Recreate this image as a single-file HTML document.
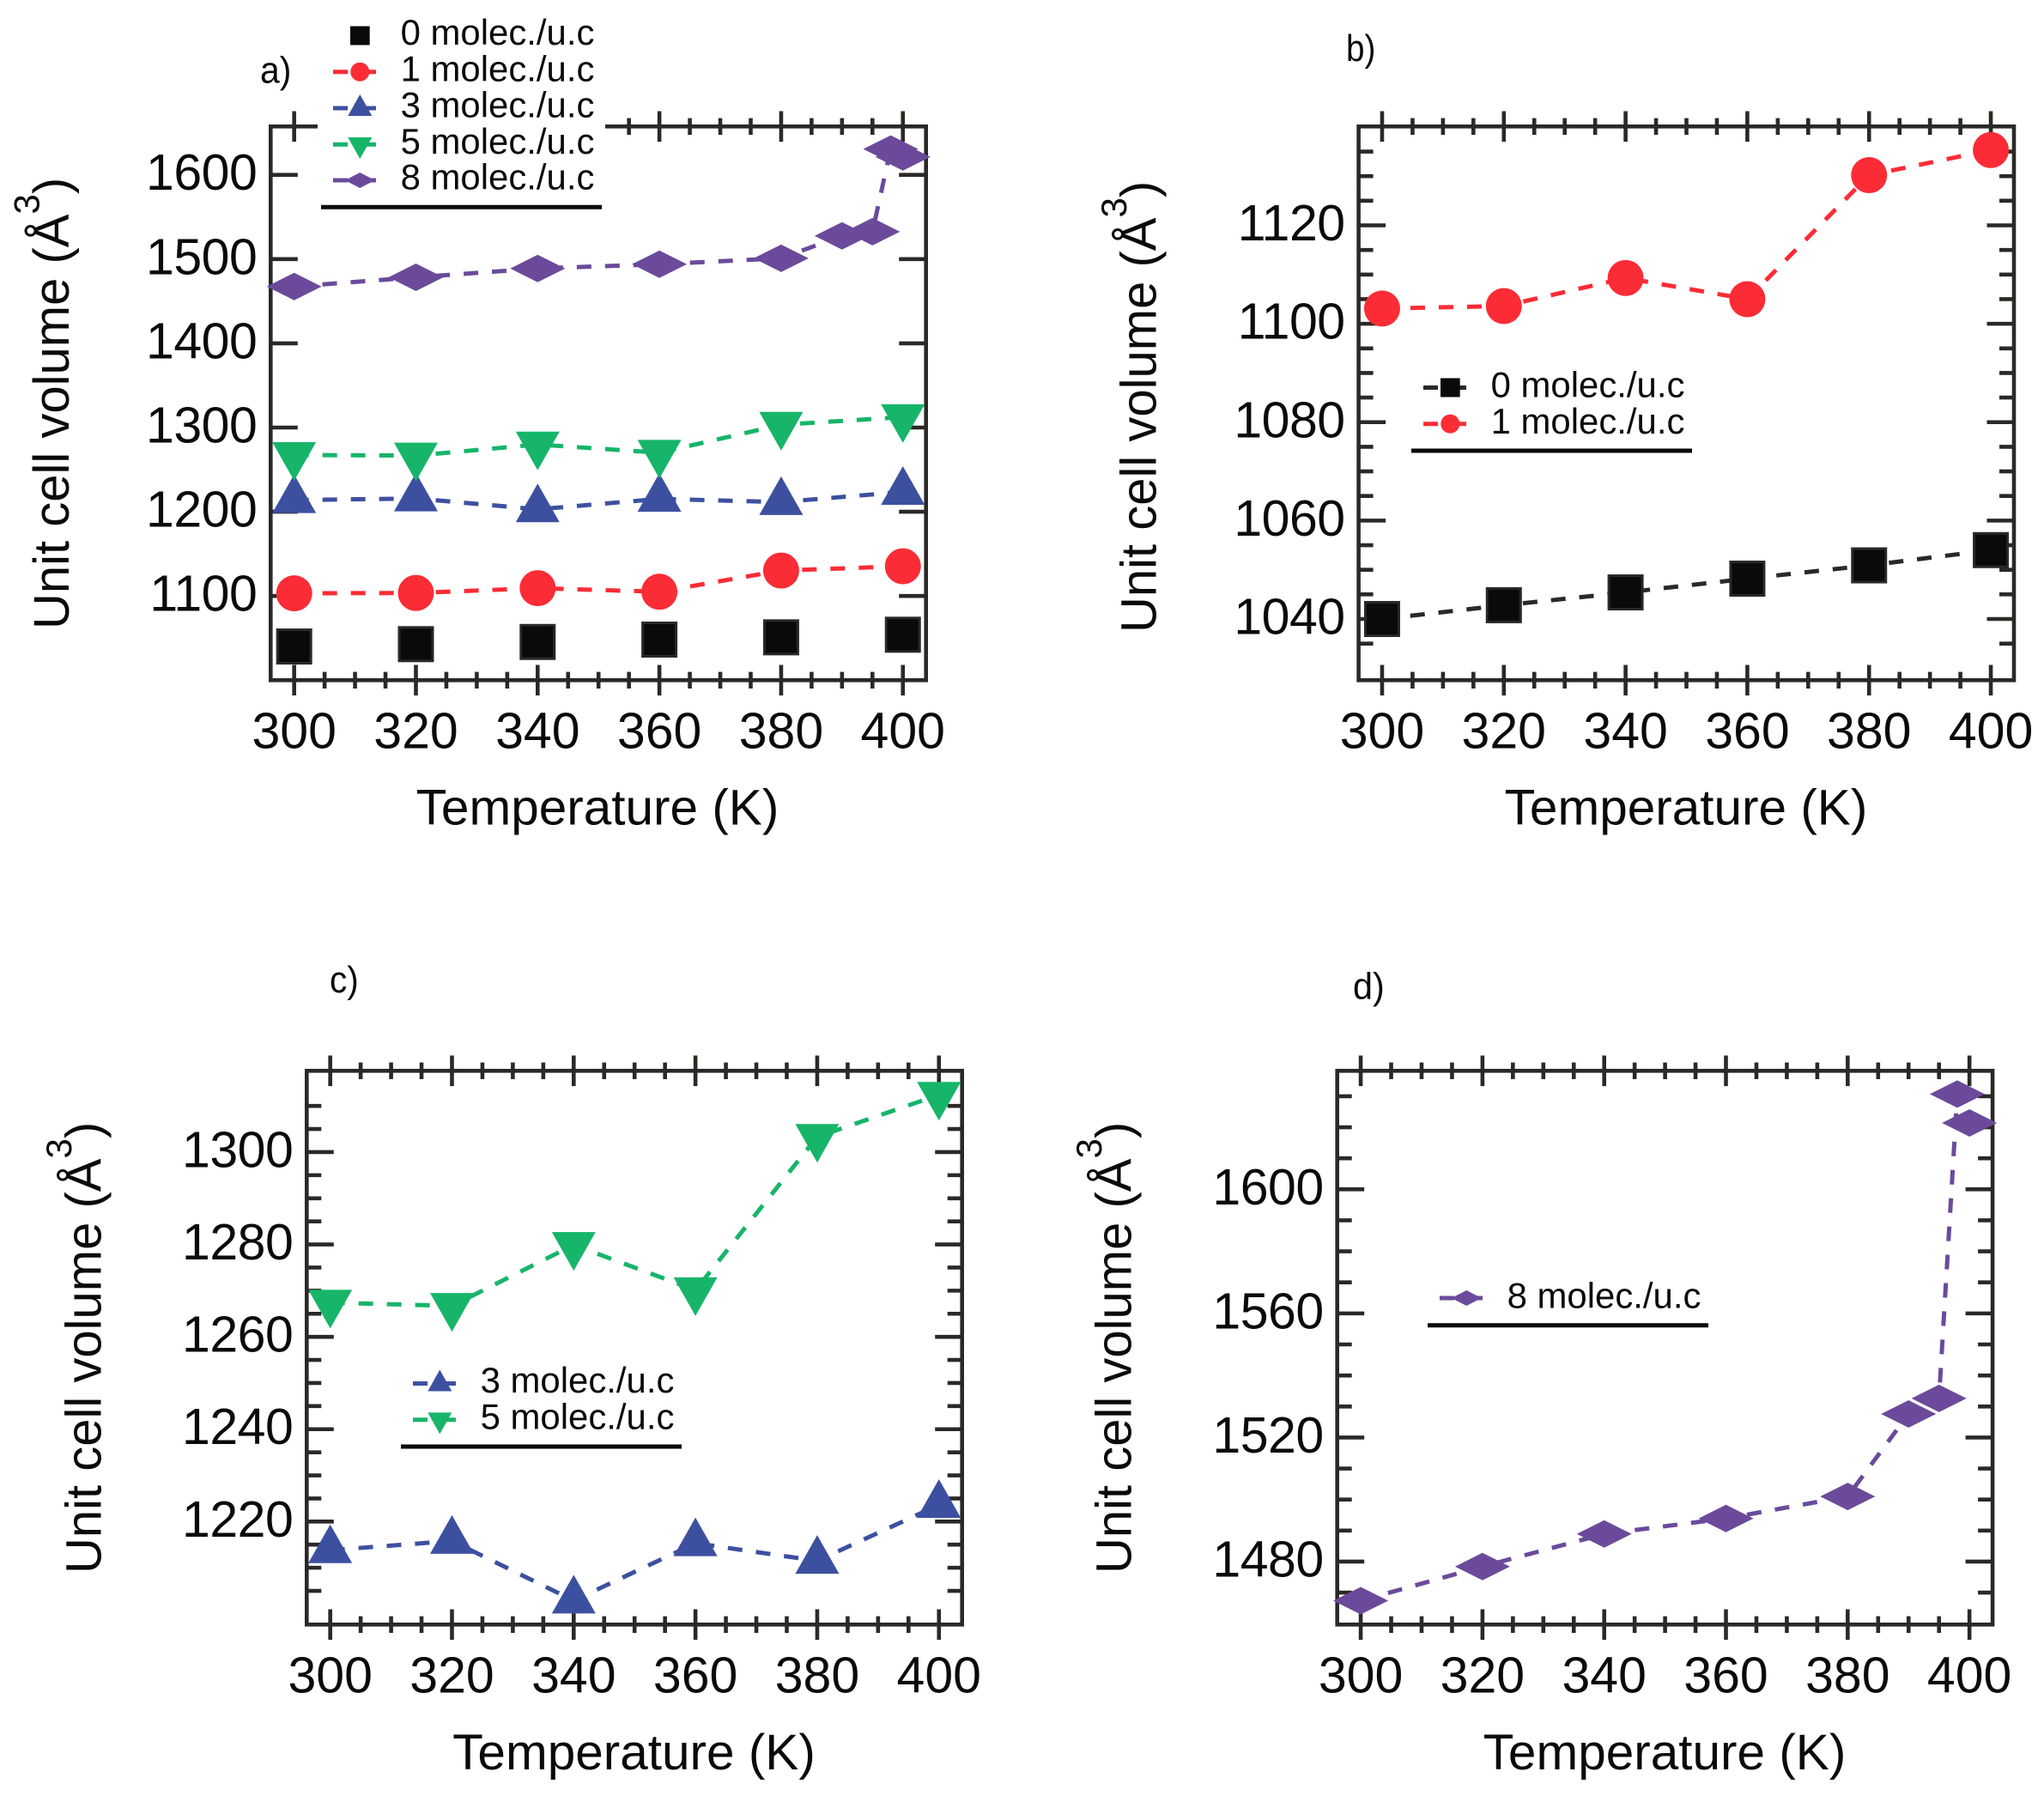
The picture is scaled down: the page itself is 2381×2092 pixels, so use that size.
<!DOCTYPE html>
<html lang="en">
<head>
<meta charset="utf-8">
<title>Unit cell volume vs temperature</title>
<style>
html,body{margin:0;padding:0;background:#fff;}
svg{display:block;}
text{font-family:"Liberation Sans",Arial,sans-serif;fill:#0a0a0a;}
.leg-text{font-size:41.9px;}
.panel-label{font-size:44px;}
.x-title{font-size:58.5px;text-anchor:middle;}
.y-title{font-size:58px;}
.leg-line{fill:none;stroke-width:5;stroke-dasharray:17 16;}
.underline{stroke:#0a0a0a;stroke-width:5;}
</style>
</head>
<body>
<svg id="figure" xmlns="http://www.w3.org/2000/svg" width="2381" height="2092" viewBox="0 0 2381 2092">
<rect width="2381" height="2092" fill="#fff"/>

<!-- Panel a -->
<g id="panel-a">
  <g id="axes-a"></g>
  <rect x="370" y="100" width="335" height="145" fill="#fff"/>
  <g id="series-a"></g>
  <text class="panel-label" transform="translate(303,96.7) scale(.93,1)">a)</text>
  <text class="x-title" x="696" y="960.5">Temperature (K)</text>
  <text class="y-title" transform="translate(80,733) rotate(-90)">Unit cell volume (Å<tspan dy="-34.5" font-size="42">3</tspan><tspan dy="34.5">)</tspan></text>
  <g transform="translate(388,0)">
    <g transform="translate(0,41.5)">
      <rect x="20" y="-11" width="22.7" height="22" fill="#0a0a0a"/>
      <text class="leg-text" x="78.6" y="10.7">0 molec./u.c</text>
    </g>
    <g transform="translate(0,83.7)">
      <path class="leg-line" d="M0 0H50" stroke="#fb2c36"/><circle cx="31.3" cy="0" r="11" fill="#fb2c36"/>
      <text class="leg-text" x="78.6" y="10.7">1 molec./u.c</text>
    </g>
    <g transform="translate(0,126)">
      <path class="leg-line" d="M0 0H50" stroke="#3d50a0"/><polygon points="31.3,-16 45.3,9 17.3,9" fill="#3d50a0"/>
      <text class="leg-text" x="78.6" y="10.7">3 molec./u.c</text>
    </g>
    <g transform="translate(0,168.3)">
      <path class="leg-line" d="M0 0H50" stroke="#17b569"/><polygon points="31.3,16.7 45.3,-8.3 17.3,-8.3" fill="#17b569"/>
      <text class="leg-text" x="78.6" y="10.7">5 molec./u.c</text>
    </g>
    <g transform="translate(0,210)">
      <path class="leg-line" d="M0 0H50" stroke="#6b4a9b"/><polygon points="13.8,0 31.3,-9 48.8,0 31.3,9" fill="#6b4a9b"/>
      <text class="leg-text" x="78.6" y="10.7">8 molec./u.c</text>
    </g>
    <line class="underline" x1="-14" x2="313" y1="241.3" y2="241.3"/>
  </g>
</g>

<!-- Panel b -->
<g id="panel-b">
  <g id="axes-b"></g>
  <g id="series-b"></g>
  <text class="panel-label" transform="translate(1568,70.9) scale(.88,1)">b)</text>
  <text class="x-title" x="1964" y="960.5">Temperature (K)</text>
  <text class="y-title" transform="translate(1346.7,737) rotate(-90)">Unit cell volume (Å<tspan dy="-34.5" font-size="42">3</tspan><tspan dy="34.5">)</tspan></text>
  <g transform="translate(1658,0)">
    <g transform="translate(0,451.5)">
      <path class="leg-line" d="M0 0H50" stroke="#2a2926"/><rect x="20" y="-11" width="22.7" height="22" fill="#0a0a0a"/>
      <text class="leg-text" x="78.6" y="11.2">0 molec./u.c</text>
    </g>
    <g transform="translate(0,493.7)">
      <path class="leg-line" d="M0 0H50" stroke="#fb2c36"/><circle cx="31.3" cy="0" r="11" fill="#fb2c36"/>
      <text class="leg-text" x="78.6" y="11.2">1 molec./u.c</text>
    </g>
    <line class="underline" x1="-14" x2="313" y1="525" y2="525"/>
  </g>
</g>

<!-- Panel c -->
<g id="panel-c">
  <g id="axes-c"></g>
  <g id="series-c"></g>
  <text class="panel-label" transform="translate(384,1155.9) scale(.92,1)">c)</text>
  <text class="x-title" x="738.5" y="2060.8">Temperature (K)</text>
  <text class="y-title" transform="translate(117.3,1833) rotate(-90)">Unit cell volume (Å<tspan dy="-34.5" font-size="42">3</tspan><tspan dy="34.5">)</tspan></text>
  <g transform="translate(481,0)">
    <g transform="translate(0,1611.5)">
      <path class="leg-line" d="M0 0H50" stroke="#3d50a0"/><polygon points="31.3,-16 45.3,9 17.3,9" fill="#3d50a0"/>
      <text class="leg-text" x="78.6" y="10.7">3 molec./u.c</text>
    </g>
    <g transform="translate(0,1653.7)">
      <path class="leg-line" d="M0 0H50" stroke="#17b569"/><polygon points="31.3,16.7 45.3,-8.3 17.3,-8.3" fill="#17b569"/>
      <text class="leg-text" x="78.6" y="10.7">5 molec./u.c</text>
    </g>
    <line class="underline" x1="-14" x2="313" y1="1685" y2="1685"/>
  </g>
</g>

<!-- Panel d -->
<g id="panel-d">
  <g id="axes-d"></g>
  <g id="series-d"></g>
  <text class="panel-label" transform="translate(1576,1163.6) scale(.94,1)">d)</text>
  <text class="x-title" x="1939" y="2060.8">Temperature (K)</text>
  <text class="y-title" transform="translate(1317.7,1833) rotate(-90)">Unit cell volume (Å<tspan dy="-34.5" font-size="42">3</tspan><tspan dy="34.5">)</tspan></text>
  <g transform="translate(1677,0)">
    <g transform="translate(0,1512)">
      <path class="leg-line" d="M0 0H50" stroke="#6b4a9b"/><polygon points="13.8,0 31.3,-9 48.8,0 31.3,9" fill="#6b4a9b"/>
      <text class="leg-text" x="78.6" y="11.5">8 molec./u.c</text>
    </g>
    <line class="underline" x1="-14" x2="313" y1="1543.8" y2="1543.8"/>
  </g>
</g>
</svg>

<script>
// ---- data ----
const temps = [300, 320, 340, 360, 380, 400];
const temps8 = [300, 320, 340, 360, 380, 390, 395, 398, 400];
const vol0 = [1040, 1042.8, 1045.4, 1048.2, 1050.9, 1054];
const vol1 = [1103.1, 1103.6, 1109.3, 1105, 1130.2, 1135.3];
const vol3 = [1213.8, 1215.8, 1202.9, 1215.3, 1211.5, 1223.6];
const vol5 = [1267.4, 1266.7, 1279.9, 1270.1, 1303.3, 1312.4];
const vol8 = [1467.4, 1478.4, 1488.9, 1493.9, 1501, 1527.6, 1532.6, 1630.7, 1621.4];
const xTickLabels = [300, 320, 340, 360, 380, 400];
const yTickLabelsA = [1100, 1200, 1300, 1400, 1500, 1600];
const yTickLabelsB = [1040, 1060, 1080, 1100, 1120];
const yTickLabelsC = [1220, 1240, 1260, 1280, 1300];
const yTickLabelsD = [1480, 1520, 1560, 1600];

// ---- layout ----
const NS = 'http://www.w3.org/2000/svg';
const AXIS = '#2a2926';
const COLORS = {s0: '#0a0a0a', s1: '#fb2c36', s3: '#3d50a0', s5: '#17b569', s8: '#6b4a9b'};
const XMIN = 296.14, XMAX = 403.8, W = 763.4, H = 645;

function make(tag, attrs, parent) {
  const el = document.createElementNS(NS, tag);
  for (const k in attrs) el.setAttribute(k, attrs[k]);
  parent.appendChild(el);
  return el;
}

function drawMarker(kind, cx, cy, color, parent) {
  let el;
  if (kind === 'square') {
    el = make('rect', {x: cx - 19.5, y: cy - 19.5, width: 39, height: 39, fill: '#0a0a0a', stroke: AXIS, 'stroke-width': 3}, parent);
  } else if (kind === 'circle') {
    el = make('circle', {cx: cx, cy: cy, r: 21, fill: color}, parent);
  } else if (kind === 'up') {
    el = make('polygon', {points: [cx, cy - 30, cx + 25.5, cy + 15, cx - 25.5, cy + 15].join(' '), fill: color}, parent);
  } else if (kind === 'down') {
    el = make('polygon', {points: [cx, cy + 30, cx + 25.5, cy - 15, cx - 25.5, cy - 15].join(' '), fill: color}, parent);
  } else {
    el = make('polygon', {points: [cx - 32, cy, cx, cy - 16, cx + 32, cy, cx, cy + 16].join(' '), fill: color}, parent);
  }
  return el;
}

function drawPanel(cfg) {
  const axes = document.getElementById('axes-' + cfg.id);
  const seriesLayer = document.getElementById('series-' + cfg.id);
  const left = cfg.left, top = cfg.top, right = left + W, bottom = top + H;
  const xScale = v => left + (v - XMIN) / (XMAX - XMIN) * W;
  const yScale = v => bottom - (v - cfg.ymin) / (cfg.ymax - cfg.ymin) * H;

  const tick = (x1, y1, x2, y2, name) => {
    const t = make('line', {x1: x1, y1: y1, x2: x2, y2: y2, stroke: AXIS, 'stroke-width': 4.6}, axes);
    
    
  };

  // x ticks: minor every 5 K, major at labels
  for (let v = 300; v <= 400; v += 5) {
    const x = xScale(v);
    const major = xTickLabels.indexOf(v) >= 0;
    const half = major ? 17.8 : 9.7;
    tick(x, bottom - half, x, bottom + half, 'x-tick-bottom');
    tick(x, top - half, x, top + half, 'x-tick-top');
  }
  // y minor ticks
  if (cfg.minorStep) {
    for (let v = cfg.minorFrom; v <= cfg.minorTo; v += cfg.minorStep) {
      if (cfg.yTicks.indexOf(v) >= 0) continue;
      const y = yScale(v);
      tick(left, y, left + 17, y, 'y-minor-tick-left');
      tick(right, y, right - 17, y, 'y-minor-tick-right');
    }
  }
  // y major ticks and labels
  cfg.yTicks.forEach(v => {
    const y = yScale(v);
    tick(left, y, left + 31.5, y, 'y-tick-left');
    tick(right, y, right - 31.5, y, 'y-tick-right');
    const lab = make('text', {x: left - 16, y: y + 17.5, 'text-anchor': 'end', 'font-size': 59, 'letter-spacing': '-0.5'}, axes);
    lab.textContent = String(v);
    
    
  });
  xTickLabels.forEach(v => {
    const lab = make('text', {x: xScale(v), y: bottom + 79, 'text-anchor': 'middle', 'font-size': 59}, axes);
    lab.textContent = String(v);
    
    
  });
  // frame
  const frame = make('rect', {x: left, y: top, width: W, height: H, fill: 'none', stroke: AXIS, 'stroke-width': 4.6}, axes);
  
  

  // series
  cfg.series.forEach(s => {
    const g = make('g', {}, seriesLayer);
    
    
    if (s.dashed) {
      const pts = s.x.map((xv, i) => xScale(xv).toFixed(2) + ',' + yScale(s.y[i]).toFixed(2)).join(' ');
      const line = make('polyline', {points: pts, fill: 'none', stroke: s.lineColor || s.color, 'stroke-width': 5, 'stroke-dasharray': '17 16'}, g);
      
      
    }
    s.x.forEach((xv, i) => {
      const m = drawMarker(s.marker, xScale(xv), yScale(s.y[i]), s.color, g);
      
      
    });
  });
}

drawPanel({
  id: 'a', left: 315.3, top: 147.3, ymin: 1000, ymax: 1657.5, yTicks: yTickLabelsA,
  series: [
    {label: '0-molec', x: temps, y: vol0, marker: 'square', color: COLORS.s0, dashed: false},
    {label: '1-molec', x: temps, y: vol1, marker: 'circle', color: COLORS.s1, dashed: true},
    {label: '3-molec', x: temps, y: vol3, marker: 'up', color: COLORS.s3, dashed: true},
    {label: '5-molec', x: temps, y: vol5, marker: 'down', color: COLORS.s5, dashed: true},
    {label: '8-molec', x: temps8, y: vol8, marker: 'diamond', color: COLORS.s8, dashed: true}
  ]
});
drawPanel({
  id: 'b', left: 1582.6, top: 147.3, ymin: 1027.56, ymax: 1140.1, yTicks: yTickLabelsB,
  minorStep: 5, minorFrom: 1035, minorTo: 1135,
  series: [
    {label: '0-molec', x: temps, y: vol0, marker: 'square', color: COLORS.s0, lineColor: AXIS, dashed: true},
    {label: '1-molec', x: temps, y: vol1, marker: 'circle', color: COLORS.s1, dashed: true}
  ]
});
drawPanel({
  id: 'c', left: 357.3, top: 1247.3, ymin: 1197.7, ymax: 1317.6, yTicks: yTickLabelsC,
  minorStep: 5, minorFrom: 1205, minorTo: 1310,
  series: [
    {label: '3-molec', x: temps, y: vol3, marker: 'up', color: COLORS.s3, dashed: true},
    {label: '5-molec', x: temps, y: vol5, marker: 'down', color: COLORS.s5, dashed: true}
  ]
});
drawPanel({
  id: 'd', left: 1557.7, top: 1247.3, ymin: 1459.7, ymax: 1638.2, yTicks: yTickLabelsD,
  minorStep: 10, minorFrom: 1470, minorTo: 1630,
  series: [
    {label: '8-molec', x: temps8, y: vol8, marker: 'diamond', color: COLORS.s8, dashed: true}
  ]
});
</script>
</body>
</html>
